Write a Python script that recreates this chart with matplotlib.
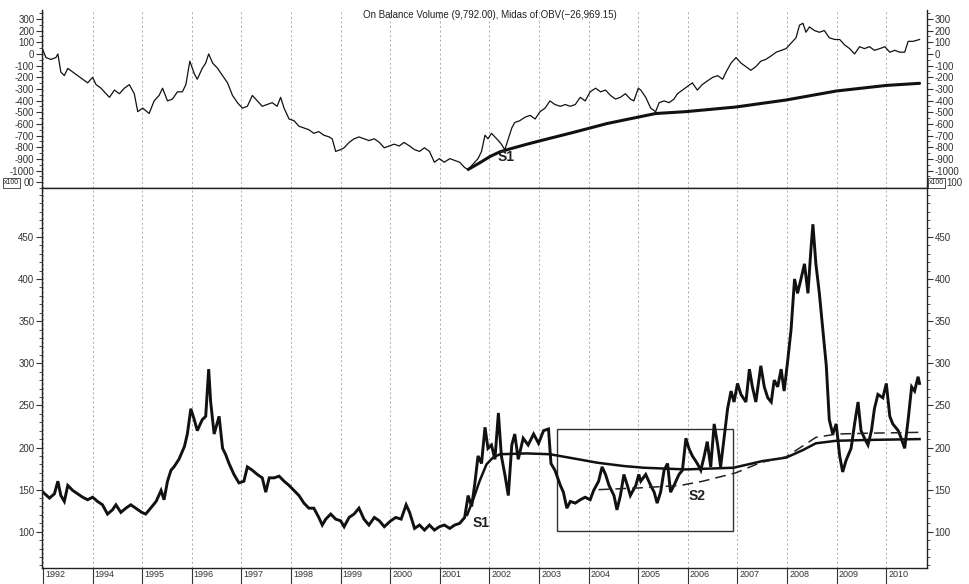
import matplotlib
matplotlib.use("Agg")
import matplotlib.pyplot as plt
import matplotlib.transforms as mtransforms
from matplotlib.patches import Rectangle
from matplotlib.ticker import MultipleLocator

plt.rcParams['font.family'] = ['Liberation Sans', 'DejaVu Sans']
plt.rcParams['axes.unicode_minus'] = False

# ---- axis labels (one tick per year boundary) ----
year_labels = ['1992', '1994', '1995', '1996', '1997', '1998', '1999', '2000', '2001',
               '2002', '2003', '2004', '2005', '2006', '2007', '2008', '2009', '2010']

# ---- On Balance Volume (x100), time in years from chart start ----
obv_t = [0.0, 0.06, 0.16, 0.26, 0.30, 0.36, 0.43, 0.50, 0.60, 0.70,
         0.80, 0.90, 1.0, 1.07, 1.17, 1.27, 1.34, 1.44, 1.54, 1.64,
         1.74, 1.84, 1.91, 2.01, 2.14, 2.24, 2.34, 2.41, 2.51, 2.61,
         2.71, 2.81, 2.88, 2.96, 3.05, 3.11, 3.21, 3.28, 3.34, 3.42,
         3.52, 3.62, 3.72, 3.82, 3.92, 4.02, 4.12, 4.22, 4.32, 4.42,
         4.52, 4.62, 4.72, 4.79, 4.86, 4.96, 5.06, 5.16, 5.26, 5.36,
         5.46, 5.56, 5.66, 5.77, 5.83, 5.90, 6.0,
         6.07, 6.17, 6.27, 6.37, 6.47, 6.57, 6.68, 6.78, 6.88, 6.98,
         7.08, 7.18, 7.28, 7.39, 7.49, 7.59, 7.69, 7.79, 7.89, 7.99,
         8.09, 8.20, 8.30, 8.40, 8.50, 8.57, 8.67, 8.77, 8.84, 8.91,
         8.97, 9.04, 9.11, 9.18, 9.24, 9.31, 9.38, 9.45, 9.51, 9.61,
         9.72, 9.82, 9.92, 10.02, 10.12, 10.22, 10.32, 10.43, 10.53, 10.63,
         10.73, 10.83, 10.93, 11.03, 11.14, 11.24, 11.34, 11.44, 11.54, 11.64,
         11.74, 11.84, 11.91, 12.0,
         12.05, 12.15, 12.25, 12.35, 12.42, 12.52, 12.62, 12.72, 12.79, 12.89,
         12.99, 13.09, 13.19, 13.29, 13.39, 13.50, 13.60, 13.70, 13.77, 13.87,
         13.97, 14.07, 14.17, 14.27, 14.37, 14.47, 14.57, 14.68, 14.78, 14.88,
         14.98, 15.08, 15.18, 15.25, 15.32, 15.38, 15.45, 15.55, 15.65, 15.75,
         15.85, 15.96, 16.06, 16.16, 16.26, 16.36, 16.46, 16.56, 16.66, 16.76,
         16.87, 16.97, 17.07, 17.17, 17.27, 17.37, 17.44, 17.54, 17.67]
obv_v = [31, -31, -47, -31, 0, -155, -186, -124, -155, -186,
         -217, -248, -201, -263, -294, -341, -372, -310, -341, -294,
         -263, -341, -495, -465, -511, -403, -356, -294, -403, -387,
         -325, -325, -263, -62, -170, -217, -124, -78, 0, -78,
         -124, -186, -248, -356, -418, -465, -449, -356, -403, -449,
         -434, -418, -449, -372, -465, -558, -573, -620, -635, -650,
         -681, -666, -697, -712, -728, -836, -821,
         -805, -759, -728, -712, -728, -743, -728, -759, -805, -790,
         -774, -790, -759, -790, -821, -836, -805, -836, -929, -898,
         -929, -898, -914, -929, -975, -991, -944, -898, -836, -697,
         -728, -681, -712, -743, -774, -821, -728, -635, -588, -573,
         -542, -527, -558, -495, -465, -403, -434, -449, -434, -449,
         -434, -372, -403, -325, -294, -325, -310, -356, -387, -372,
         -341, -387, -403, -294,
         -310, -372, -465, -495, -418, -403, -418, -387, -341, -310,
         -279, -248, -310, -263, -232, -201, -186, -217, -155, -78,
         -31, -78, -109, -140, -109, -62, -47, -16, 15, 31,
         46, 93, 139, 247, 263, 186, 232, 201, 186, 201,
         139, 124, 124, 77, 46, 0, 62, 46, 62, 31,
         46, 62, 15, 31, 15, 15, 108, 108, 124]

# Midas curve of OBV anchored at the 2001 low
obv_midas_t = [8.57, 8.80, 9.01, 9.21, 9.41, 9.75, 10.02, 10.70, 11.37, 12.11,
               12.35, 12.96, 13.97, 14.98, 15.99, 17.0, 17.67]
obv_midas_v = [-991, -935, -880, -840, -815, -775, -745, -672, -597, -532,
               -511, -495, -455, -395, -318, -270, -252]

# ---- price ----
price_t = [0.0, 0.13, 0.23, 0.30, 0.36, 0.43, 0.50, 0.60, 0.70, 0.80,
           0.90, 1.0, 1.10, 1.20, 1.30, 1.40, 1.47, 1.57, 1.67, 1.77,
           1.87, 1.99, 2.07, 2.17, 2.28, 2.38, 2.44, 2.51, 2.58, 2.64,
           2.74, 2.85, 2.91, 2.98, 3.05, 3.11, 3.21, 3.28, 3.34, 3.38,
           3.45, 3.55, 3.62, 3.68, 3.75, 3.85, 3.95, 4.05, 4.12, 4.22,
           4.32, 4.42, 4.49, 4.56, 4.66, 4.76, 4.86, 4.96, 5.06, 5.16,
           5.26, 5.36, 5.46, 5.56, 5.63, 5.70, 5.80, 5.90, 6.0,
           6.07, 6.17, 6.27, 6.37, 6.47, 6.57, 6.68, 6.78, 6.88, 7.01,
           7.11, 7.22, 7.32, 7.39, 7.49, 7.59, 7.69, 7.79, 7.89, 7.99,
           8.09, 8.20, 8.30, 8.40, 8.50, 8.57, 8.64, 8.70, 8.77, 8.84,
           8.91, 8.97, 9.04, 9.11, 9.18, 9.24, 9.31, 9.38, 9.45, 9.51,
           9.58, 9.68, 9.78, 9.89, 9.99, 10.09, 10.19, 10.24, 10.32, 10.43,
           10.49, 10.56, 10.63, 10.73, 10.83, 10.93, 11.03, 11.10, 11.20, 11.27,
           11.34, 11.41, 11.51, 11.57, 11.64, 11.71, 11.78, 11.84, 11.95, 12.01,
           12.05, 12.15, 12.25, 12.32, 12.38, 12.45, 12.52, 12.59, 12.65, 12.72,
           12.82, 12.89, 12.96, 13.02, 13.09, 13.19, 13.26, 13.33, 13.39, 13.46,
           13.53, 13.60, 13.66, 13.73, 13.80, 13.87, 13.93, 14.0, 14.07, 14.17,
           14.24, 14.30, 14.37, 14.47, 14.54, 14.61, 14.68, 14.74, 14.81, 14.88,
           14.94, 15.01, 15.08, 15.15, 15.21, 15.28, 15.35, 15.42, 15.48, 15.52,
           15.58, 15.65, 15.72, 15.79, 15.85, 15.92, 15.99, 16.06, 16.12, 16.19,
           16.29, 16.36, 16.43, 16.49, 16.56, 16.63, 16.70, 16.76, 16.83, 16.93,
           17.0, 17.07, 17.13, 17.24, 17.30, 17.37, 17.44, 17.51, 17.57, 17.64,
           17.67]
price_v = [147, 140, 145, 160, 143, 136, 155, 149, 145, 141,
           138, 141, 136, 132, 121, 126, 132, 123, 128, 132,
           128, 123, 121, 128, 136, 149, 138, 160, 173, 177,
           186, 201, 216, 246, 233, 220, 233, 237, 293, 254,
           216, 237, 199, 192, 181, 168, 158, 160, 177, 173,
           168, 164, 147, 164, 164, 166, 160, 155, 149, 143,
           134, 128, 128, 117, 108, 115, 121, 115, 113,
           106, 117, 121, 128, 115, 108, 117, 113, 106, 113,
           117, 115, 132, 123, 104, 108, 102, 108, 102, 106,
           108, 104, 108, 110, 117, 143, 130, 155, 190, 181,
           224, 199, 203, 186, 241, 190, 168, 143, 203, 216,
           186, 211, 203, 216, 205, 220, 222, 181, 173, 155,
           147, 128, 136, 134, 138, 141, 138, 149, 160, 177,
           168, 155, 143, 126, 143, 168, 155, 143, 155, 168,
           160, 168, 155, 147, 134, 147, 173, 181, 147, 155,
           168, 173, 211, 199, 190, 181, 173, 190, 207, 177,
           228, 203, 177, 211, 246, 267, 254, 276, 263, 254,
           293, 272, 254, 297, 272, 259, 254, 280, 272, 293,
           267, 302, 340, 400, 383, 400, 418, 383, 435, 465,
           418, 383, 340, 297, 233, 216, 228, 190, 171, 185,
           199, 228, 254, 220, 211, 203, 220, 246, 263, 259,
           276, 237, 228, 220, 211, 199, 233, 272, 267, 284,
           276]

# Midas support curves on price
midas_s1_t = [8.55, 8.67, 8.80, 8.94, 9.07, 9.21, 9.75, 10.22, 10.70, 11.17,
              11.71, 12.11, 12.96, 13.92, 14.51, 14.98, 15.32, 15.58, 15.99, 16.66,
              17.67]
midas_s1_v = [120, 138, 160, 180, 188, 192, 193, 192, 187, 182,
              178, 176, 174, 176, 184, 188, 197, 205, 208, 209,
              210]
midas_s2_t = [11.20, 12.0, 12.85, 13.30, 13.97, 14.46, 14.98, 15.32, 15.58, 16.0,
              16.66, 17.67]
midas_s2_v = [150, 152, 155, 160, 170, 182, 189, 202, 212, 216,
              217, 218]

# consolidation box
box_t = (10.37, 13.90)
box_v = (101, 221.5)

# ---- figure ----
W, H = 969, 584
fig = plt.figure(figsize=(W / 100, H / 100), dpi=100)
fig.patch.set_facecolor('white')
x0, x1 = 42 / W, 927 / W
ax_top = fig.add_axes([x0, 1 - 188 / H, x1 - x0, (188 - 10) / H])
ax_bot = fig.add_axes([x0, 1 - 568 / H, x1 - x0, (568 - 188) / H], sharex=ax_top)

ink = '#111111'
for ax in (ax_top, ax_bot):
    for sp in ax.spines.values():
        sp.set_color('#222222')
        sp.set_linewidth(1.0)
    ax.set_xticks(range(len(year_labels)))
    ax.xaxis.grid(True, linestyle=(0, (2.5, 3)), color='#a0a0a0', linewidth=0.6)
    ax.set_axisbelow(True)
    ax.tick_params(axis='y', which='both', left=True, right=True,
                   labelleft=True, labelright=True, direction='out',
                   labelsize=7, labelcolor='#333333', color='#333333', pad=1.5)
    ax.tick_params(axis='y', which='major', length=4, width=0.8)
    ax.tick_params(axis='y', which='minor', length=2.5, width=0.6)

# the chart has no frame line along its very top edge
ax_top.spines['top'].set_visible(False)
ax_top.set_xlim(-0.02, 17.82)

# top panel: OBV with its Midas curve
ax_top.plot(obv_t, obv_v, color=ink, linewidth=0.9)
ax_top.plot(obv_midas_t, obv_midas_v, color=ink, linewidth=2.2, solid_capstyle='round')
ax_top.set_ylim(-1150, 377)
top_ticks = list(range(-1100, 301, 100))
ax_top.set_yticks(top_ticks)
# the lowest label is partly hidden behind the x100 scale marker
ax_top.set_yticklabels(['' if v == -1100 else str(v) for v in top_ticks])
ax_top.yaxis.set_minor_locator(MultipleLocator(50))
ax_top.tick_params(axis='x', length=0, labelbottom=False)
ax_top.text(9.33, -880, 'S1', fontsize=10, fontweight='bold', color='#222222',
            ha='center', va='center')

# bottom panel: price, Midas curves and box
ax_bot.plot(price_t, price_v, color=ink, linewidth=2.1, solid_joinstyle='miter')
ax_bot.plot(midas_s1_t, midas_s1_v, color=ink, linewidth=1.8)
ax_bot.plot(midas_s2_t, midas_s2_v, color='#222222', linewidth=1.1,
            linestyle=(0, (7, 4)))
ax_bot.add_patch(Rectangle((box_t[0], box_v[0]), box_t[1] - box_t[0], box_v[1] - box_v[0],
                           fill=False, edgecolor='#333333', linewidth=1.0))
ax_bot.set_ylim(57, 508)
bot_ticks = list(range(100, 451, 50))
ax_bot.set_yticks(bot_ticks)
ax_bot.set_yticklabels([str(v) for v in bot_ticks])
ax_bot.yaxis.set_minor_locator(MultipleLocator(10))
ax_bot.text(8.83, 111, 'S1', fontsize=10, fontweight='bold', color='#222222',
            ha='center', va='center')
ax_bot.text(13.19, 143, 'S2', fontsize=10, fontweight='bold', color='#222222',
            ha='center', va='center')

# year labels sit to the right of tall tick marks
ax_bot.set_xticklabels(year_labels)
ax_bot.tick_params(axis='x', direction='out', length=12, width=0.8, color='#333333',
                   labelsize=6.5, labelcolor='#333333', pad=-10.5)
shift = mtransforms.ScaledTranslation(2 / 100, 0, fig.dpi_scale_trans)
for lab in ax_bot.get_xticklabels():
    lab.set_horizontalalignment('left')
    lab.set_transform(lab.get_transform() + shift)

# title
fig.text(490 / W, 1 - 15 / H, 'On Balance Volume (9,792.00), Midas of OBV(\u221226,969.15)',
         fontsize=7, color='#222222', ha='center', va='center')

# x100 scale markers at the panel join, with the visible tail of the -1100 label
marker_box = dict(boxstyle='square,pad=0.15', fc='white', ec='#333333', lw=0.6)
fig.text(4 / W, 1 - 183 / H, 'x100', fontsize=5, color='#222222', ha='left',
         va='center', bbox=marker_box)
fig.text(24 / W, 1 - 183 / H, '00', fontsize=7, color='#333333', ha='left', va='center')
fig.text(929 / W, 1 - 183 / H, 'x100', fontsize=5, color='#222222', ha='left',
         va='center', bbox=marker_box)
fig.text(946 / W, 1 - 183 / H, '100', fontsize=7, color='#333333', ha='left', va='center')

fig.savefig('out.png', dpi=100, facecolor='white')
